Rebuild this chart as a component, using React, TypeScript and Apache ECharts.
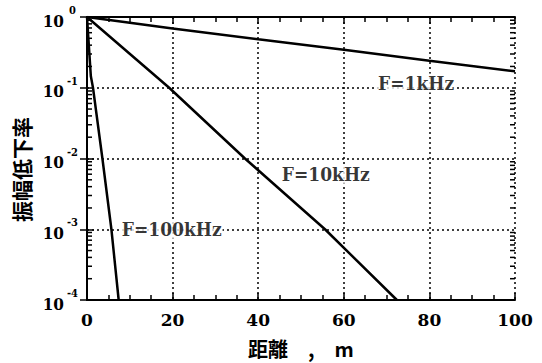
import React, { useEffect, useRef } from "react";
import * as echarts from "echarts";

const xTicks = [0, 20, 40, 60, 80, 100];
const seriesNames = ["F=1kHz", "F=10kHz", "F=100kHz"];
const f1k: [number, number][] = [
  [0, 1], [20, 0.69], [40, 0.486], [60, 0.344], [80, 0.24], [100, 0.171],
];
const f10k: [number, number][] = [
  [0, 1], [19.2, 0.1], [36.9, 0.01], [55.6, 0.001], [72.4, 0.0001],
];
const f100k: [number, number][] = [
  [0, 1], [0.9, 0.145], [1.4, 0.1], [3.6, 0.01], [5.7, 0.001], [7.4, 0.0001],
];
const labelPoints: [number, number, string][] = [
  [76.9, 0.117, "F=1kHz"],
  [55.8, 0.006, "F=10kHz"],
  [19.8, 0.001, "F=100kHz"],
];
const decades = [-4, -3, -2, -1];
const minorMultipliers = [2, 3, 4, 5, 6, 7, 8, 9];
const yMinorValues: number[] = [];
decades.forEach((d) => minorMultipliers.forEach((m) => yMinorValues.push(m * Math.pow(10, d))));

const CJK = "Noto Sans CJK JP";
const SERIF = "DejaVu Serif";
const SERIF_C = "DejaVu Serif Condensed";

export default function App() {
  const ref = useRef<HTMLDivElement>(null);
  useEffect(() => {
    if (!ref.current) return;
    const chart = echarts.init(ref.current, null, { renderer: "svg" });
    const lineStyle = { color: "#000", width: 2.5 };
    const commonX = {
      type: "value" as const,
      min: xTicks[0],
      max: xTicks[xTicks.length - 1],
      interval: 20,
      axisLine: { show: true, lineStyle: { color: "#000", width: 2 } },
      axisTick: { show: true, inside: true, length: 7, lineStyle: { color: "#000", width: 1.5 } },
      minorTick: { show: true, splitNumber: 4, length: 5, lineStyle: { color: "#000", width: 1.5 } },
    };
    const commonY = {
      type: "log" as const,
      logBase: 10,
      min: 1e-4,
      max: 1,
      splitNumber: 4,
      axisLine: { show: true, lineStyle: { color: "#000", width: 2 } },
      axisTick: { show: true, inside: true, length: 7, lineStyle: { color: "#000", width: 1.5 } },
    };
    chart.setOption({
      animation: false,
      backgroundColor: "#fff",
      grid: { left: 87, right: 27, top: 17, bottom: 61 },
      xAxis: [
        {
          ...commonX,
          position: "bottom",
          name: "距離　,　m",
          nameLocation: "middle",
          nameGap: 38,
          nameTextStyle: { fontFamily: CJK, fontSize: 20, fontWeight: "bold", color: "#000" },
          axisLabel: {
            fontFamily: SERIF, fontSize: 17, fontWeight: "bold", color: "#000", margin: 11,
          },
          splitLine: { show: true, lineStyle: { type: [2, 3], color: "#000", width: 1.5 } },
        },
        {
          ...commonX,
          position: "top",
          axisLabel: { show: false },
          splitLine: { show: false },
        },
      ],
      yAxis: [
        {
          ...commonY,
          position: "left",
          name: "振幅低下率",
          nameLocation: "middle",
          nameGap: 52,
          nameTextStyle: {
            fontFamily: CJK, fontSize: 21, fontWeight: "bold", color: "#000",
            padding: [0, 22, 0, 0],
          },
          axisLabel: {
            margin: 6,
            fontFamily: SERIF_C,
            fontWeight: "bold",
            fontSize: 17,
            color: "#000",
            formatter: (v: number) => {
              const e = Math.round(Math.log10(v));
              return `{b|10}{s|${e}}`;
            },
            rich: {
              b: { fontFamily: SERIF_C, fontSize: 17, fontWeight: "bold", color: "#000", verticalAlign: "bottom", lineHeight: 24 },
              s: { fontFamily: SERIF_C, fontSize: 11, fontWeight: "bold", color: "#000", verticalAlign: "top", width: 17, align: "left", lineHeight: 20 },
            },
          },
          splitLine: { show: true, lineStyle: { type: [2, 3], color: "#000", width: 1.5 } },
        },
        {
          ...commonY,
          position: "right",
          axisLabel: { show: false },
          splitLine: { show: false },
        },
      ],
      series: [
        { name: seriesNames[0], type: "line", data: f1k, symbol: "none", lineStyle, z: 5 },
        { name: seriesNames[1], type: "line", data: f10k, symbol: "none", lineStyle, z: 5 },
        { name: seriesNames[2], type: "line", data: f100k, symbol: "none", lineStyle, z: 5 },
        {
          type: "custom",
          data: yMinorValues.map((v) => [0, v]),
          silent: true,
          clip: false,
          z: 6,
          renderItem: (params: any, api: any) => {
            const v = api.value(1);
            const l = api.coord([0, v]);
            const r = api.coord([100, v]);
            const style = { stroke: "#000", lineWidth: 1.5 };
            return {
              type: "group",
              children: [
                { type: "line", shape: { x1: l[0], y1: l[1], x2: l[0] + 5, y2: l[1] }, style },
                { type: "line", shape: { x1: r[0], y1: r[1], x2: r[0] - 5, y2: r[1] }, style },
              ],
            };
          },
        },
        {
          type: "scatter",
          data: labelPoints.map((p) => [p[0], p[1], p[2]]),
          symbolSize: 0,
          silent: true,
          z: 10,
          label: {
            show: true,
            position: "inside",
            formatter: (p: any) => p.value[2],
            fontFamily: SERIF_C,
            fontSize: 19,
            fontWeight: "bold",
            color: "#000",
            textBorderWidth: 0,
            backgroundColor: "#fff",
            padding: [0, 1],
          },
        },
      ],
    });
    return () => chart.dispose();
  }, []);
  return (
    <div
      ref={ref}
      style={{ position: "fixed", left: 0, top: 0, width: 542, height: 363, background: "#fff" }}
    />
  );
}
